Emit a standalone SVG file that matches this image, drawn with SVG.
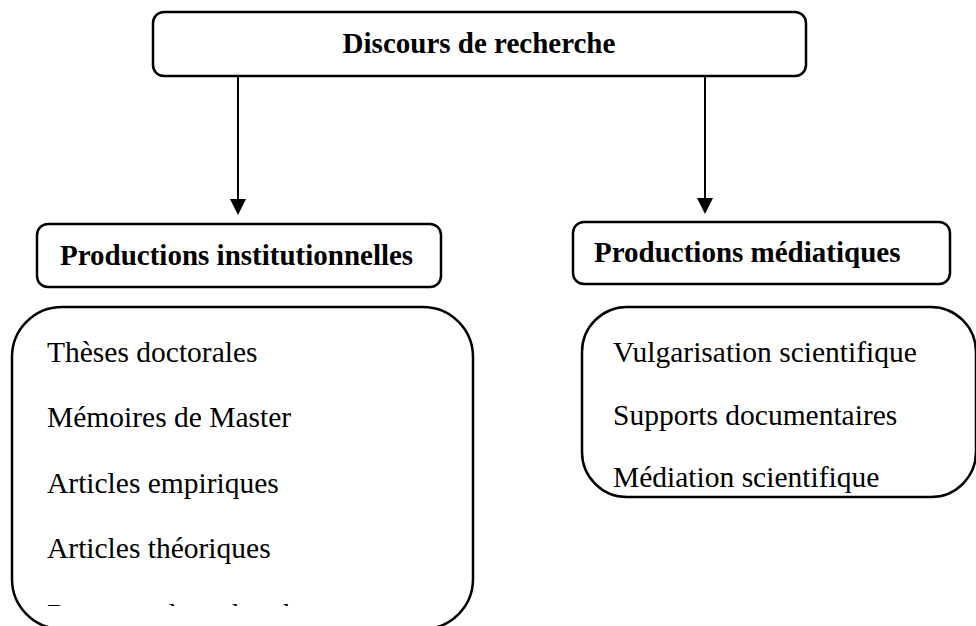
<svg xmlns="http://www.w3.org/2000/svg" width="976" height="626" viewBox="0 0 976 626">
<style>
.box{fill:#fff;stroke:#000;stroke-width:2.5}
.big{fill:#fff;stroke:#000;stroke-width:2.5}
.hd{font-family:"Liberation Serif","Times New Roman",serif;font-weight:bold;font-size:29px;fill:#000}
.it{font-family:"Liberation Serif","Times New Roman",serif;font-size:29.5px;fill:#000}
.conn{stroke:#000;stroke-width:2;fill:none}
</style>
<defs>
<clipPath id="clipL"><rect x="12" y="307" width="462" height="299"/></clipPath>
</defs>
<rect width="976" height="626" fill="#fff"/>
<g id="connectors">
<line class="conn" x1="238" y1="76" x2="238" y2="200"/>
<path d="M230,199 L246,199 L238,215 Z" fill="#000"/>
<line class="conn" x1="705" y1="76" x2="705" y2="199"/>
<path d="M697,198 L713,198 L705,214 Z" fill="#000"/>
</g>
<g id="discours">
<rect class="box" x="153" y="12" width="653" height="64" rx="11"/>
<text class="hd" x="479" y="53" text-anchor="middle">Discours de recherche</text>
</g>
<g id="prod-inst">
<rect class="box" x="37" y="224" width="404" height="63" rx="11"/>
<text class="hd" x="60" y="265">Productions institutionnelles</text>
</g>
<g id="prod-med">
<rect class="box" x="573" y="222" width="377" height="62" rx="11"/>
<text class="hd" x="594" y="262">Productions médiatiques</text>
</g>
<g id="liste-inst">
<rect class="big" x="12" y="307" width="461" height="322" rx="50"/>
<g clip-path="url(#clipL)">
<text class="it" x="47" y="362">Thèses doctorales</text>
<text class="it" x="47" y="427">Mémoires de Master</text>
<text class="it" x="47" y="493">Articles empiriques</text>
<text class="it" x="47" y="558">Articles théoriques</text>
<text class="it" x="47" y="624">Rapports de recherche</text>
</g>
</g>
<g id="liste-med">
<rect class="big" x="582" y="307" width="394" height="190" rx="45"/>
<text class="it" x="613" y="362">Vulgarisation scientifique</text>
<text class="it" x="613" y="425">Supports documentaires</text>
<text class="it" x="613" y="487">Médiation scientifique</text>
</g>
</svg>
